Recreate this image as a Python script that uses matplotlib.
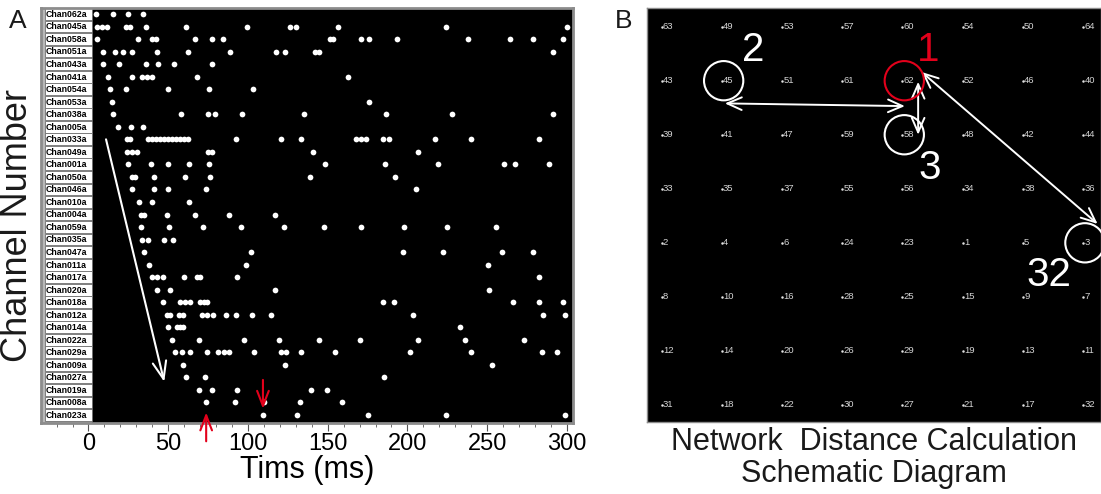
import matplotlib
matplotlib.use("Agg")
import matplotlib.pyplot as plt
from matplotlib.patches import Rectangle

plt.rcParams['font.family'] = ['Liberation Sans', 'DejaVu Sans']

# ---- panel A data: raster of spikes (ms) per channel, top to bottom ----
channels = ["Chan062a", "Chan045a", "Chan058a", "Chan051a", "Chan043a", "Chan041a",
            "Chan054a", "Chan053a", "Chan038a", "Chan005a", "Chan033a", "Chan049a",
            "Chan001a", "Chan050a", "Chan046a", "Chan010a", "Chan004a", "Chan059a",
            "Chan035a", "Chan047a", "Chan011a", "Chan017a", "Chan020a", "Chan018a",
            "Chan012a", "Chan014a", "Chan022a", "Chan029a", "Chan009a", "Chan027a",
            "Chan019a", "Chan008a", "Chan023a"]

spike_times = [
    [4.5, 15.1, 24.6, 34.0],
    [5.1, 8.3, 11.4, 23.5, 26.0, 35.9, 61.1, 99.2, 126.3, 129.9, 156.6, 224.1, 300.2],
    [5.1, 31.2, 39.6, 42.3, 66.8, 77.6, 84.1, 151.4, 153.5, 170.8, 175.8, 193.7, 237.7, 264.4, 278.9, 297.7],
    [8.9, 16.6, 21.8, 27.1, 42.8, 62.6, 88.7, 117.6, 123.2, 142.0, 144.7, 291.4],
    [8.9, 19.4, 36.0, 43.8, 53.8, 77.6],
    [12.4, 27.1, 33.4, 36.5, 39.6, 68.2, 162.5],
    [13.5, 23.5, 50.0, 75.7, 102.9],
    [14.9, 175.9],
    [15.5, 58.0, 75.1, 79.3, 96.1, 135.3, 186.5, 227.7, 291.4],
    [18.7, 26.6, 34.4],
    [24.0, 26.0, 37.5, 40.0, 42.5, 45.0, 47.5, 50.0, 52.6, 55.0, 57.4, 60.1, 62.6, 92.5,
     120.5, 133.0, 167.7, 170.8, 174.0, 184.8, 188.6, 217.2, 239.8, 282.4],
    [24.0, 27.1, 30.2, 75.1, 77.6, 140.6, 206.4],
    [24.6, 39.2, 50.0, 63.0, 75.5, 148.5, 185.9, 219.3, 260.7, 267.4, 288.9],
    [27.1, 29.2, 41.3, 60.5, 76.2, 138.7, 192.4],
    [27.1, 41.3, 50.0, 73.5, 205.3],
    [31.7, 39.6, 63.0],
    [32.9, 35.0, 49.0, 66.8, 88.3, 116.9],
    [32.9, 50.5, 72.0, 95.4, 122.8, 147.6, 170.7, 197.8, 225.0, 255.3],
    [33.4, 37.1, 47.5, 53.2],
    [35.0, 101.7, 197.0, 222.4, 259.4, 278.5],
    [38.1, 98.6, 250.7],
    [39.6, 42.8, 46.5, 59.9, 67.8, 69.9, 92.9, 282.6],
    [43.1, 51.1, 116.9, 251.3],
    [46.5, 57.4, 60.5, 63.6, 69.9, 72.4, 74.5, 184.5, 191.7, 266.3, 282.6, 297.3],
    [49.0, 51.1, 56.9, 59.1, 71.0, 74.1, 78.2, 86.0, 92.5, 102.7, 114.2, 203.3, 284.8, 298.7],
    [49.7, 55.3, 57.4, 59.1, 232.9],
    [52.5, 69.3, 97.7, 119.6, 144.7, 170.2, 206.4, 236.1, 273.0],
    [54.2, 58.4, 63.6, 74.1, 81.4, 85.0, 88.1, 104.1, 120.8, 123.8, 133.2, 154.5, 201.6,
     239.6, 284.1, 293.5],
    [59.1, 123.2, 253.0],
    [61.1, 73.0, 185.3],
    [69.5, 77.2, 92.9, 139.5, 149.7],
    [74.0, 92.0, 110.0, 132.5, 159.0],
    [109.7, 131.0, 175.3, 224.2, 298.7],
]

x_major = [0, 50, 100, 150, 200, 250, 300]

# ---- panel B data: 8x8 electrode layout ----
electrode_ids = [
    [63, 49, 53, 57, 60, 54, 50, 64],
    [43, 45, 51, 61, 62, 52, 46, 40],
    [39, 41, 47, 59, 58, 48, 42, 44],
    [33, 35, 37, 55, 56, 34, 38, 36],
    [2, 4, 6, 24, 23, 1, 5, 3],
    [8, 10, 16, 28, 25, 15, 9, 7],
    [12, 14, 20, 26, 29, 19, 13, 11],
    [31, 18, 22, 30, 27, 21, 17, 32],
]
# circled electrodes: (column, row, rank label)
circled = [(4, 1, "1"), (1, 1, "2"), (4, 2, "3"), (7, 4, "32")]

fig = plt.figure(figsize=(11.01, 4.94), dpi=100)

# ================= panel A =================
axA = fig.add_axes([0.0372, 0.1437, 0.4832, 0.8401])
axA.set_facecolor('black')
for i, times in enumerate(spike_times):
    axA.scatter(times, [i] * len(times), s=17, c='white', linewidths=0, zorder=3)

axA.set_xlim(-29.8, 303.8)
axA.set_ylim(len(channels) - 0.36, -0.48)

# label column
axA.add_patch(Rectangle((-29.8, -0.48), 32.2, len(channels) + 0.12,
                        facecolor='#b8b8b8', edgecolor='none', zorder=1))
for i, name in enumerate(channels):
    axA.add_patch(Rectangle((-27.2, i - 0.47), 29.4, 0.94, facecolor='white',
                            edgecolor='#707070', lw=0.6, zorder=2))
    axA.text(-26.6, i + 0.03, name, fontsize=6.3, fontweight='bold', color='black',
             va='center', ha='left', zorder=4)

for s in axA.spines.values():
    s.set_color('#8c8c8c')
    s.set_linewidth(2)
axA.set_yticks([])
axA.set_xticks(x_major)
axA.set_xticks(range(-20, 301, 10), minor=True)
axA.tick_params(axis='x', which='major', labelsize=17, length=6, color='#555555', pad=1.5)
axA.tick_params(axis='x', which='minor', length=3, color='#555555')
axA.set_xlabel("Tims (ms)", fontsize=22, labelpad=0)

# white propagation arrow
axA.annotate("", xy=(47.5, 29.35), xytext=(11.0, 10.0),
             arrowprops=dict(arrowstyle='->,head_length=0.9,head_width=0.35',
                             color='white', lw=1.5, mutation_scale=14,
                             shrinkA=0, shrinkB=0), zorder=5)
# red arrows
axA.annotate("", xy=(109.4, 31.5), xytext=(109.4, 29.2),
             arrowprops=dict(arrowstyle='->,head_length=0.9,head_width=0.35',
                             color='#e3001b', lw=1.5, mutation_scale=12,
                             shrinkA=0, shrinkB=0), zorder=5)
axA.annotate("", xy=(73.8, 31.8), xytext=(73.8, 34.1),
             arrowprops=dict(arrowstyle='->,head_length=0.9,head_width=0.35',
                             color='#e3001b', lw=1.5, mutation_scale=12,
                             shrinkA=0, shrinkB=0), zorder=5, annotation_clip=False)

fig.text(18 / 1101, 0.543, "Channel Number", fontsize=26, rotation=90,
         ha='center', va='center', color='#1a1a1a')
fig.text(18 / 1101, 1 - 21 / 494, "A", fontsize=19, ha='center', va='center', color='#1a1a1a')
fig.text(624 / 1101, 1 - 21 / 494, "B", fontsize=19, ha='center', va='center', color='#1a1a1a')

# ================= panel B =================
axB = fig.add_axes([0.5876, 0.1464, 0.4124, 0.8368])
axB.set_facecolor('black')
axB.set_xlim(-0.244, 7.297)
axB.set_ylim(7.31, -0.34)
for r, row in enumerate(electrode_ids):
    for c, eid in enumerate(row):
        axB.plot(c, r, marker='o', ms=1.8, color='#e0e0e0', mec='none')
        axB.text(c + 0.02, r, str(eid), fontsize=6.8, color='#d4d4d4',
                 ha='left', va='center')

for c, r, lab in circled:
    col = '#e3001b' if lab == "1" else 'white'
    axB.scatter([c + 0.03], [r], s=800, facecolors='none', edgecolors=col,
                linewidths=1.5, zorder=4, clip_on=False)

label_pos = {"1": (4.42, 0.43), "2": (1.52, 0.43), "3": (4.46, 2.62), "32": (6.43, 4.6)}
for c, r, lab in circled:
    x, y = label_pos[lab]
    axB.text(x, y, lab, fontsize=29, color='#e3001b' if lab == "1" else 'white',
             ha='center', va='center', zorder=5)

arrow_kw = dict(arrowstyle='<->,head_length=0.8,head_width=0.35', color='white',
                lw=1.4, mutation_scale=13, shrinkA=0, shrinkB=0)
axB.annotate("", xy=(1.05, 1.42), xytext=(4.04, 1.47), arrowprops=arrow_kw)
axB.annotate("", xy=(4.26, 1.02), xytext=(4.26, 2.0), arrowprops=arrow_kw)
axB.annotate("", xy=(4.32, 0.84), xytext=(7.24, 3.65), arrowprops=arrow_kw)

axB.set_xticks([])
axB.set_yticks([])
for s in axB.spines.values():
    s.set_color('#8c8c8c')
    s.set_linewidth(1)
axB.set_xlabel("Network  Distance Calculation\nSchematic Diagram", fontsize=22,
               linespacing=1.08, labelpad=4, color='#1a1a1a')

fig.savefig("out.png", dpi=100, facecolor='white')
